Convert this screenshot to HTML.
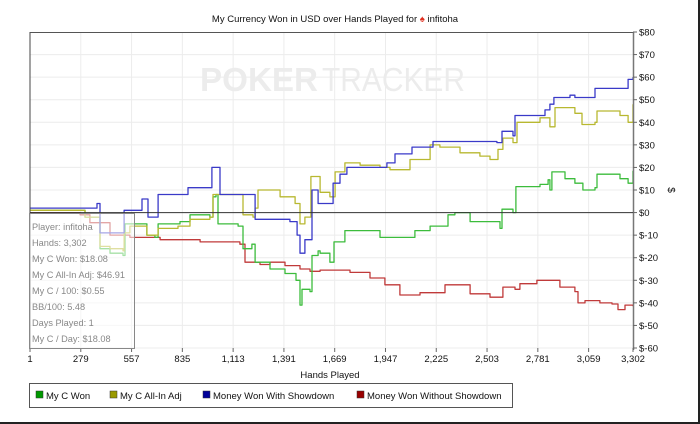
<!DOCTYPE html>
<html><head><meta charset="utf-8"><style>
body{margin:0;background:#fff;}
svg{display:block;font-family:"Liberation Sans",sans-serif;}
</style></head><body>
<svg id="chart" width="700" height="424" viewBox="0 0 700 424">
<rect x="0" y="0" width="700" height="424" fill="#fff"/>
<line x1="0" y1="423" x2="700" y2="423" stroke="#222" stroke-width="2"/>
<line x1="699" y1="0" x2="699" y2="424" stroke="#222" stroke-width="2"/>
<text x="335" y="22" font-size="9.5" text-anchor="middle" fill="#111">My Currency Won in USD over Hands Played for <tspan fill="#e03020">♠</tspan> infitoha</text>
<g id="grid"></g>
<g fill="#ececec" font-size="33">
<text x="200" y="91" font-weight="bold" textLength="118" lengthAdjust="spacingAndGlyphs">POKER</text>
<text x="322" y="91" textLength="143" lengthAdjust="spacingAndGlyphs">TRACKER</text>
</g>
<g id="series"></g>
<line x1="30" y1="32" x2="30" y2="348" stroke="#444" stroke-width="1"/>
<line x1="30" y1="32.5" x2="633" y2="32.5" stroke="#555" stroke-width="1"/>
<line x1="633.5" y1="32" x2="633.5" y2="350" stroke="#777" stroke-width="1.5"/>
<g id="axes"></g>
<text x="330" y="378" font-size="9.5" text-anchor="middle" fill="#111">Hands Played</text>
<text transform="translate(668,190) rotate(90)" font-size="10" text-anchor="middle" fill="#111">$</text>
<g>
<rect x="29.5" y="213.5" width="105" height="135" fill="rgba(255,255,255,0.55)" stroke="#888"/>
<g font-size="9.2" fill="#888">
<text x="32" y="230">Player: infitoha</text>
<text x="32" y="246">Hands: 3,302</text>
<text x="32" y="262">My C Won: $18.08</text>
<text x="32" y="278">My C All-In Adj: $46.91</text>
<text x="32" y="294">My C / 100: $0.55</text>
<text x="32" y="310">BB/100: 5.48</text>
<text x="32" y="326">Days Played: 1</text>
<text x="32" y="342">My C / Day: $18.08</text>
</g></g>
<g>
<rect x="29.5" y="383.5" width="483" height="24" fill="#fff" stroke="#555"/>
<g font-size="9.5" fill="#111">
<rect x="36" y="391" width="7" height="7" fill="#009900" stroke="#333" stroke-width="0.5"/><text x="46" y="399">My C Won</text>
<rect x="110" y="391" width="7" height="7" fill="#999900" stroke="#333" stroke-width="0.5"/><text x="120" y="399">My C All-In Adj</text>
<rect x="203" y="391" width="7" height="7" fill="#000099" stroke="#333" stroke-width="0.5"/><text x="213" y="399">Money Won With Showdown</text>
<rect x="357" y="391" width="7" height="7" fill="#990000" stroke="#333" stroke-width="0.5"/><text x="367" y="399">Money Won Without Showdown</text>
</g></g>
</svg>
<script>
const xTicks = [1,279,557,835,1113,1391,1669,1947,2225,2503,2781,3059,3302];
const xTickLabels = ["1","279","557","835","1,113","1,391","1,669","1,947","2,225","2,503","2,781","3,059","3,302"];
const yTicks = [80,70,60,50,40,30,20,10,0,-10,-20,-30,-40,-50,-60];
const yTickLabels = ["$80","$70","$60","$50","$40","$30","$20","$10","$0","$-10","$-20","$-30","$-40","$-50","$-60"];

const blueHands = [1,368,379,384,516,614,641,647,702,866,997,1030,1041,1233,1424,1463,1479,1506,1545,1578,1660,1698,1736,1955,1999,2092,2207,2437,2557,2585,2645,2656,2820,2847,2869,2957,2984,3094,3203,3275,3302];
const blueVals  = [2,4,4,-9,1,6,6,-2,8,11,20,20,8,-3,-4,-10,-18,-12,10,4,13,17,20,22,26,29,31.5,31.5,31,36,34,43,45.5,48,51,52,51,55,55,59,60];

const yelHands = [1,275,302,384,439,510,516,548,614,641,702,811,877,986,1003,1030,1123,1167,1222,1233,1249,1370,1452,1479,1506,1539,1589,1643,1671,1725,1808,1917,1972,2081,2191,2245,2355,2464,2519,2563,2590,2645,2667,2793,2837,2847,2875,2984,3023,3094,3105,3231,3275,3302];
const yelVals  = [1,1,-2,-15,-16,-17,-9,-6,-6,-10,-7,-6,-3,-2,8,8,8,-1,-2,2,10,7,4,-5,-2,16,9,7,18,22,21,20,19,23.5,30,29,26.5,25,23.5,28,33,31,40,42,42,38,46.5,44,39,40,45,43,40,48];

const grnHands = [1,275,302,384,439,510,521,603,641,685,702,822,877,986,1003,1019,1030,1140,1167,1216,1233,1315,1397,1457,1479,1490,1534,1545,1578,1589,1643,1665,1725,1808,1917,2026,2108,2191,2289,2327,2410,2574,2585,2628,2645,2661,2793,2837,2847,2858,2930,2984,3028,3094,3105,3231,3275,3302];
const grnVals  = [1,1,-2,-16,-18,-19,-5,-5,-10,-11,-5,-4,-1,-2,7,8,-5,-6,-16,-14,-22,-25,-27,-30,-41,-34,-35,-19,-17,-18,-22,-13,-8,-8,-11,-11,-8,-6,-1,0,-4,-7,1.5,1.5,0,11.5,12.5,14.5,10,18,15,13,10,11,17,15,13,18.5];

const redHands = [1,275,329,439,548,713,932,1150,1178,1260,1315,1397,1479,1534,1589,1753,1862,1944,2026,2136,2273,2410,2519,2574,2590,2656,2683,2776,2902,2984,3001,3039,3121,3187,3220,3258,3302];
const redVals  = [0,-1,-4.5,-10,-11,-12,-13,-14,-22,-23,-22,-23.5,-25,-26,-25.5,-26.5,-29,-32,-36.5,-35.5,-32,-36,-37.5,-37.5,-33,-34,-31.5,-30,-33,-35,-40,-39,-40,-40.5,-43,-41,-41.5];

const NS='http://www.w3.org/2000/svg';
const X0=30,X1=633,Y0=32,Y1=348;
function xs(h){return X0+(h-1)/(3302-1)*(X1-X0);}
function ys(v){return Y0+(80-v)/140*(Y1-Y0);}
function mk(tag,attrs,parent){const e=document.createElementNS(NS,tag);for(const k in attrs)e.setAttribute(k,attrs[k]);parent.appendChild(e);return e;}
const grid=document.getElementById('grid'),axes=document.getElementById('axes'),ser=document.getElementById('series');
xTicks.forEach((t,i)=>{
  const x=xs(t);
  if(i>0&&i<xTicks.length-1){const g=mk('line',{x1:x,y1:Y0,x2:x,y2:Y1,stroke:'#ececec'},grid);
  
  }
  mk('line',{x1:x,y1:Y1,x2:x,y2:Y1+4,stroke:'#666'},axes);
  const tx=mk('text',{x:x,y:Y1+14,'font-size':9.5,'text-anchor':'middle',fill:'#111'},axes);
  tx.textContent=xTickLabels[i];
  
  
});
yTicks.forEach((t,i)=>{
  const y=ys(t);
  if(t!==80&&t!==0){const g=mk('line',{x1:X0,y1:y,x2:X1,y2:y,stroke:'#ececec'},grid);
  
  }
  mk('line',{x1:X1,y1:y,x2:X1+4,y2:y,stroke:'#666'},axes);
  const tx=mk('text',{x:X1+6,y:y+3.5,'font-size':9.5,fill:'#111'},axes);
  tx.textContent=yTickLabels[i];
  
  
});
const zl=mk('line',{x1:X0,y1:ys(0),x2:X1,y2:ys(0),stroke:'#333','stroke-width':1},axes);


function line(h,v,color,name){
  let d='M'+xs(h[0]).toFixed(1)+','+ys(v[0]).toFixed(1);
  for(let i=1;i<h.length;i++){d+=' H'+xs(h[i]).toFixed(1)+' V'+ys(v[i]).toFixed(1);}
  const p=mk('path',{d:d,fill:'none',stroke:color,'stroke-width':1.3,'stroke-linejoin':'round'},ser);
  
  
}
line(redHands,redVals,'#c03a3a','line-without-showdown');
line(grnHands,grnVals,'#3cbc3c','line-my-c-won');
line(yelHands,yelVals,'#b8b830','line-all-in-adj');
line(blueHands,blueVals,'#3a3ac8','line-with-showdown');
</script>
</body></html>
